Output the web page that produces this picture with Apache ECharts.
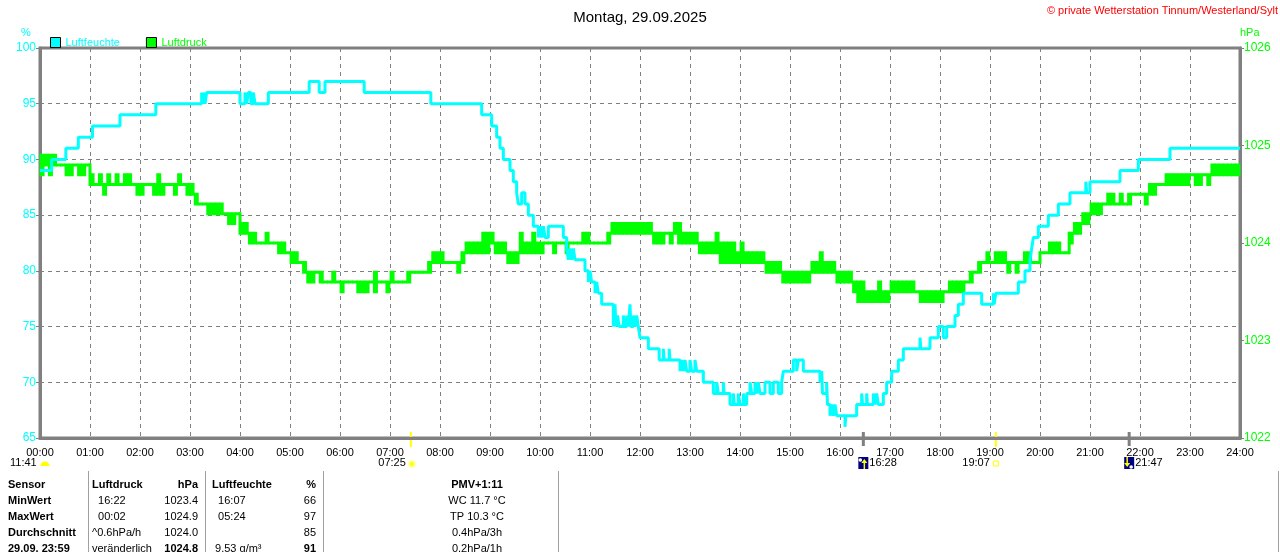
<!DOCTYPE html>
<html>

<head>
    <meta charset="utf-8" />
    <script src="https://cdn.jsdelivr.net/npm/echarts@6/dist/echarts.min.js"></script>
    <style>
        html, body { margin: 0; padding: 0; background: #fff; }
    </style>
</head>

<body>
    <div id="main" style="width: 1280px;height:552px;"></div>
    <script type="text/javascript">
        const FONT = 'Liberation Sans, Arial, sans-serif';
        const CYAN = '#00ffff';
        const GREEN = '#00ff00';
        const GRAY = '#808080';

        // Luftfeuchte (%): step changes [time, value]
        const humidity = [
            ['00:00', 89], ['00:14', 90], ['00:31', 91], ['00:46', 92], ['01:03', 93], ['01:36', 94],
            ['02:19', 95], ['03:14', 96], ['03:15', 95], ['03:17', 96], ['03:18', 95], ['03:20', 96],
            ['04:00', 95], ['04:06', 96], ['04:08', 95], ['04:10', 96], ['04:13', 95], ['04:16', 96],
            ['04:18', 95], ['04:34', 96], ['05:23', 97], ['05:35', 96], ['05:42', 97], ['06:29', 96],
            ['07:49', 95], ['08:50', 94], ['09:02', 93], ['09:08', 92], ['09:12', 91], ['09:16', 90],
            ['09:24', 89], ['09:28', 88], ['09:32', 87], ['09:34', 86], ['09:38', 87], ['09:42', 86],
            ['09:46', 85], ['09:52', 84], ['09:58', 83], ['10:00', 84], ['10:02', 83], ['10:04', 84],
            ['10:06', 83], ['10:10', 84], ['10:28', 83], ['10:32', 82], ['10:34', 81], ['10:36', 82],
            ['10:38', 81], ['10:40', 82], ['10:42', 81], ['10:54', 80], ['10:58', 79], ['11:00', 80],
            ['11:02', 79], ['11:06', 78], ['11:08', 79], ['11:10', 78], ['11:14', 77], ['11:28', 75],
            ['11:30', 77], ['11:31', 75], ['11:33', 76], ['11:35', 75], ['11:40', 76], ['11:41', 75],
            ['11:44', 76], ['11:46', 75], ['11:48', 77], ['11:49', 75], ['11:52', 76], ['11:54', 75],
            ['11:56', 76], ['11:58', 75], ['12:00', 74], ['12:10', 73], ['12:23', 72], ['12:28', 73],
            ['12:29', 72], ['12:35', 73], ['12:36', 72], ['12:48', 71], ['12:50', 72], ['12:52', 71],
            ['12:54', 72], ['12:56', 71], ['13:00', 72], ['13:02', 71], ['13:06', 72], ['13:08', 71],
            ['13:16', 70], ['13:28', 69], ['13:32', 70], ['13:34', 69], ['13:40', 70], ['13:41', 69],
            ['13:48', 68], ['13:52', 69], ['13:53', 68], ['13:58', 69], ['14:00', 68], ['14:04', 69],
            ['14:05', 68], ['14:08', 69], ['14:12', 70], ['14:14', 69], ['14:18', 70], ['14:20', 69],
            ['14:22', 70], ['14:24', 69], ['14:30', 70], ['14:36', 69], ['14:40', 70], ['14:46', 69],
            ['14:50', 70], ['14:52', 71], ['15:04', 72], ['15:08', 71], ['15:10', 72], ['15:16', 71],
            ['15:36', 70], ['15:38', 71], ['15:39', 69], ['15:44', 70], ['15:45', 68], ['15:48', 67],
            ['15:50', 68], ['15:52', 67], ['15:54', 68], ['15:56', 67], ['16:06', 66], ['16:07', 67],
            ['16:20', 68], ['16:26', 69], ['16:27', 68], ['16:32', 69], ['16:33', 68], ['16:40', 69],
            ['16:42', 68], ['16:44', 69], ['16:46', 68], ['16:52', 69], ['16:56', 70], ['17:02', 71],
            ['17:10', 72], ['17:16', 73], ['17:36', 74], ['17:37', 73], ['17:48', 74], ['17:58', 75],
            ['18:04', 74], ['18:08', 75], ['18:18', 76], ['18:22', 77], ['18:28', 78], ['18:50', 77],
            ['19:04', 78], ['19:05', 77], ['19:07', 78], ['19:34', 79], ['19:42', 80], ['19:48', 81],
            ['19:50', 82], ['19:52', 83], ['19:58', 84], ['20:10', 85], ['20:22', 86], ['20:36', 87],
            ['20:55', 88], ['20:56', 87], ['21:00', 88], ['21:36', 89], ['21:58', 90], ['22:36', 91],
            ['24:00', 91]
        ];

        // Luftdruck (hPa): one entry per 5 minutes, one row per hour.
        // A plain number is a steady reading, [low, high] is a reading that toggles between two values.
        const pressure = [
            [[1024.7, 1024.9], [1024.8, 1024.9], [1024.7, 1024.9], [1024.8, 1024.9], 1024.8, 1024.8, [1024.7, 1024.8], [1024.7, 1024.8], 1024.8, [1024.7, 1024.8], [1024.7, 1024.8], 1024.8],
            [[1024.6, 1024.7], 1024.6, [1024.6, 1024.7], [1024.5, 1024.6], [1024.6, 1024.7], 1024.6, [1024.6, 1024.7], 1024.6, [1024.6, 1024.7], [1024.6, 1024.7], 1024.6, [1024.5, 1024.6]],
            [[1024.5, 1024.6], 1024.6, 1024.6, [1024.5, 1024.6], [1024.5, 1024.7], [1024.5, 1024.6], 1024.6, 1024.6, [1024.5, 1024.6], [1024.6, 1024.7], 1024.6, [1024.5, 1024.6]],
            [[1024.5, 1024.6], [1024.4, 1024.5], 1024.4, 1024.4, [1024.3, 1024.4], [1024.3, 1024.4], [1024.3, 1024.4], [1024.3, 1024.4], 1024.3, [1024.2, 1024.3], [1024.2, 1024.3], 1024.3],
            [[1024.1, 1024.2], [1024.1, 1024.2], [1024.0, 1024.1], [1024.0, 1024.1], 1024.0, 1024.0, [1024.0, 1024.1], 1024.0, 1024.0, [1023.9, 1024.0], [1023.9, 1024.0], 1023.9],
            [[1023.8, 1023.9], [1023.8, 1023.9], 1023.8, [1023.7, 1023.8], [1023.6, 1023.7], [1023.6, 1023.7], 1023.7, [1023.6, 1023.7], 1023.6, 1023.6, [1023.6, 1023.7], 1023.6],
            [[1023.5, 1023.6], 1023.6, 1023.6, 1023.6, [1023.5, 1023.6], [1023.5, 1023.6], [1023.5, 1023.6], 1023.6, [1023.5, 1023.7], 1023.6, 1023.6, [1023.5, 1023.6]],
            [[1023.6, 1023.7], 1023.6, 1023.6, 1023.6, [1023.6, 1023.7], 1023.7, 1023.7, 1023.7, 1023.7, [1023.7, 1023.8], [1023.8, 1023.9], [1023.8, 1023.9]],
            [[1023.8, 1023.9], 1023.8, 1023.8, 1023.8, [1023.7, 1023.8], [1023.8, 1023.9], [1023.9, 1024.0], [1023.9, 1024.0], [1023.9, 1024.0], [1023.9, 1024.0], [1023.9, 1024.1], [1023.9, 1024.1]],
            [[1024.0, 1024.1], [1023.9, 1024.0], [1023.9, 1024.0], [1023.9, 1024.0], [1023.8, 1023.9], [1023.8, 1023.9], [1023.8, 1023.9], [1023.9, 1024.1], [1023.9, 1024.0], [1023.9, 1024.0], [1023.9, 1024.1], [1023.9, 1024.0]],
            [[1023.9, 1024.0], 1024.0, 1024.0, [1023.9, 1024.0], 1024.0, 1024.0, [1023.9, 1024.0], 1024.0, 1024.0, 1024.0, [1024.0, 1024.1], [1024.0, 1024.1]],
            [1024.0, 1024.0, 1024.0, 1024.0, [1024.0, 1024.1], [1024.1, 1024.2], [1024.1, 1024.2], [1024.1, 1024.2], [1024.1, 1024.2], [1024.1, 1024.2], [1024.1, 1024.2], [1024.1, 1024.2]],
            [[1024.1, 1024.2], [1024.1, 1024.2], [1024.1, 1024.2], [1024.0, 1024.1], [1024.0, 1024.1], [1024.0, 1024.1], 1024.1, [1024.0, 1024.1], [1024.1, 1024.2], [1024.0, 1024.2], [1024.0, 1024.1], [1024.0, 1024.1]],
            [[1024.0, 1024.1], [1024.0, 1024.1], [1023.9, 1024.0], [1023.9, 1024.0], [1023.9, 1024.0], [1023.9, 1024.0], [1023.9, 1024.1], [1023.8, 1024.0], [1023.8, 1024.0], [1023.8, 1024.0], [1023.8, 1024.0], [1023.8, 1023.9]],
            [[1023.8, 1024.0], [1023.8, 1023.9], [1023.8, 1023.9], [1023.8, 1023.9], [1023.8, 1023.9], [1023.8, 1023.9], [1023.7, 1023.8], [1023.7, 1023.8], [1023.7, 1023.8], [1023.7, 1023.8], [1023.6, 1023.7], [1023.6, 1023.7]],
            [[1023.6, 1023.7], [1023.6, 1023.7], [1023.6, 1023.7], [1023.6, 1023.7], [1023.6, 1023.7], [1023.7, 1023.8], [1023.7, 1023.8], [1023.7, 1023.9], [1023.7, 1023.8], [1023.7, 1023.8], [1023.7, 1023.8], [1023.6, 1023.7]],
            [[1023.6, 1023.7], [1023.6, 1023.7], [1023.6, 1023.7], [1023.5, 1023.6], [1023.4, 1023.6], [1023.4, 1023.6], [1023.4, 1023.5], [1023.4, 1023.5], [1023.4, 1023.5], [1023.4, 1023.6], [1023.4, 1023.5], [1023.4, 1023.5]],
            [[1023.5, 1023.6], [1023.5, 1023.6], [1023.5, 1023.6], [1023.5, 1023.6], [1023.5, 1023.6], [1023.5, 1023.6], 1023.5, [1023.4, 1023.5], [1023.4, 1023.5], [1023.4, 1023.5], [1023.4, 1023.5], [1023.4, 1023.5]],
            [[1023.4, 1023.5], 1023.5, [1023.5, 1023.6], [1023.5, 1023.6], [1023.5, 1023.6], [1023.5, 1023.6], 1023.6, [1023.6, 1023.7], 1023.7, [1023.7, 1023.8], 1023.8, [1023.8, 1023.9]],
            [1023.8, [1023.8, 1023.9], [1023.8, 1023.9], [1023.8, 1023.9], [1023.7, 1023.8], 1023.8, [1023.7, 1023.8], 1023.8, [1023.8, 1023.9], [1023.8, 1023.9], 1023.8, 1023.8],
            [1023.9, 1023.9, [1023.9, 1024.0], [1023.9, 1024.0], [1023.9, 1024.0], 1023.9, 1023.9, [1024.0, 1024.1], [1024.1, 1024.2], [1024.1, 1024.2], [1024.2, 1024.3], [1024.2, 1024.3]],
            [[1024.3, 1024.4], [1024.3, 1024.4], [1024.3, 1024.4], 1024.4, [1024.4, 1024.5], [1024.4, 1024.5], 1024.4, [1024.4, 1024.5], 1024.4, [1024.4, 1024.5], 1024.5, 1024.5],
            [1024.5, [1024.4, 1024.5], [1024.5, 1024.6], [1024.5, 1024.6], 1024.6, 1024.6, [1024.6, 1024.7], [1024.6, 1024.7], [1024.6, 1024.7], [1024.6, 1024.7], [1024.6, 1024.7], [1024.6, 1024.7]],
            [1024.7, [1024.6, 1024.7], [1024.6, 1024.7], 1024.7, [1024.6, 1024.7], [1024.7, 1024.8], [1024.7, 1024.8], [1024.7, 1024.8], [1024.7, 1024.8], [1024.7, 1024.8], [1024.7, 1024.8], [1024.7, 1024.8]]
        ];

        const dayLength = '11:41';
        const sunrise = '07:25';
        const sunset = '19:07';
        const moonrise = '16:28';
        const moonset = '21:47';

        const tableRows = [
            ['Sensor', 'Luftdruck', 'hPa', 'Luftfeuchte', '%', 'PMV+1:11'],
            ['MinWert', '  16:22', '1023.4', '  16:07', '66', 'WC 11.7 °C'],
            ['MaxWert', '  00:02', '1024.9', '  05:24', '97', 'TP 10.3 °C'],
            ['Durchschnitt', '^0.6hPa/h', '1024.0', '', '85', '0.4hPa/3h'],
            ['29.09. 23:59', 'veränderlich', '1024.8', ' 9.53 g/m³', '91', '0.2hPa/1h']
        ];

        function toMin(t) {
            const p = t.split(':');
            return +p[0] * 60 + +p[1];
        }

        function pad(n) {
            return (n < 10 ? '0' : '') + n;
        }

        // flatten to [startMinute, low, high, nextLow, nextHigh]
        const slots = [].concat(...pressure).map(v => Array.isArray(v) ? v : [v, v]);
        const pressureData = slots.map((s, i) => {
            const n = slots[i + 1] || s;
            return [i * 5, s[0], s[1], n[0], n[1]];
        });

        // each slot is a 3px stroke, toggling slots fill the band between both readings
        function renderPressure(params, api) {
            const t = api.value(0);
            const pLo = api.coord([t, api.value(1)]);
            const yHi = api.coord([t, api.value(2)])[1];
            const x1 = api.coord([t + 5, api.value(1)])[0];
            const nLo = api.coord([t + 5, api.value(3)])[1];
            const nHi = api.coord([t + 5, api.value(4)])[1];
            const style = { fill: GREEN };
            const rect = (x, y, rw, rh) => ({ type: 'rect', shape: { x: x, y: y, width: rw, height: rh }, style: style });
            // slightly wider than the slot so neighbouring slots do not leave seams
            const kids = [rect(pLo[0] - 0.4, yHi - 1.5, x1 - pLo[0] + 0.8, pLo[1] - yHi + 3)];
            // step to the next slot when the ranges do not touch
            if (nLo < yHi - 0.5 || nHi > pLo[1] + 0.5) {
                const top = Math.min(yHi, nHi), bot = Math.max(pLo[1], nLo);
                kids.push(rect(x1 - 1.5, top - 1.5, 3, bot - top + 3));
            }
            return { type: 'group', children: kids };
        }

        const myChart = echarts.init(document.getElementById('main'));
        myChart.setOption({
            animation: false,
            backgroundColor: '#fff',
            textStyle: { fontFamily: FONT },
            title: {
                text: 'Montag, 29.09.2025',
                left: 'center',
                top: 5,
                textStyle: { fontFamily: FONT, fontSize: 15, fontWeight: 'normal', color: '#000' }
            },
            legend: {
                left: 45,
                top: 32,
                icon: 'rect',
                itemWidth: 10,
                itemHeight: 10,
                itemGap: 26,
                itemStyle: { borderColor: '#000', borderWidth: 1 },
                textStyle: { fontFamily: FONT, fontSize: 11 },
                data: [
                    { name: 'Luftfeuchte', textStyle: { color: CYAN } },
                    { name: 'Luftdruck', textStyle: { color: GREEN } }
                ]
            },
            grid: {
                left: 40, right: 40, top: 48, bottom: 114,
                show: true, borderColor: GRAY, borderWidth: 3
            },
            xAxis: {
                type: 'value',
                min: 0,
                max: 1440,
                interval: 60,
                axisLine: { lineStyle: { color: GRAY, width: 3 } },
                axisTick: { show: false },
                axisLabel: {
                    color: '#000', fontSize: 11, fontFamily: FONT, margin: 9,
                    showMaxLabel: true,
                    formatter: v => pad(v / 60) + ':00'
                },
                splitLine: { show: true, lineStyle: { color: GRAY, type: [4, 4], width: 1 } }
            },
            yAxis: [{
                type: 'value',
                min: 65,
                max: 100,
                interval: 5,
                axisLine: { show: true, lineStyle: { color: GRAY, width: 3 } },
                axisTick: { show: true, length: 4, lineStyle: { color: GRAY, width: 1 } },
                axisLabel: { color: CYAN, fontSize: 12, fontFamily: FONT, margin: 4 },
                splitLine: { show: true, lineStyle: { color: GRAY, type: [4, 4], width: 1 } }
            }, {
                type: 'value',
                position: 'right',
                min: 1022,
                max: 1026,
                interval: 1,
                axisLine: { show: true, lineStyle: { color: GRAY, width: 3 } },
                axisTick: { show: true, length: 4, lineStyle: { color: GRAY, width: 1 } },
                axisLabel: { color: GREEN, fontSize: 12, fontFamily: FONT, margin: 4, formatter: v => String(v) },
                splitLine: { show: false }
            }],
            series: [{
                name: 'Luftdruck',
                type: 'custom',
                yAxisIndex: 1,
                color: GREEN,
                itemStyle: { color: GREEN },
                renderItem: renderPressure,
                encode: { x: 0, y: [1, 2] },
                data: pressureData
            }, {
                name: 'Luftfeuchte',
                type: 'line',
                yAxisIndex: 0,
                step: 'end',
                showSymbol: false,
                color: CYAN,
                lineStyle: { color: CYAN, width: 3 },
                data: humidity.map(d => [toMin(d[0]), d[1]])
            }]
        });

        // markers and table below the plot, placed through the axis scale
        const xAt = t => myChart.convertToPixel({ xAxisIndex: 0 }, toMin(t));
        const yBase = myChart.convertToPixel({ yAxisIndex: 0 }, 65);
        const labelY = yBase + 25;
        const t = (x, y, s, align, color, bold) => ({
            type: 'text', x: x, y: y,
            style: {
                text: s, fill: color || '#000',
                font: (bold ? 'bold ' : '') + '11px ' + FONT,
                textAlign: align || 'left', textVerticalAlign: 'middle'
            }
        });
        const line = (x1, y1, x2, y2, color, w) => ({
            type: 'line', shape: { x1: x1, y1: y1, x2: x2, y2: y2 },
            style: { stroke: color, lineWidth: w }
        });

        const g = [];
        g.push(t(26, 33, '%', 'center', CYAN));
        g.push(t(1240, 33, 'hPa', 'left', GREEN));
        g.push(t(1278, 11, '© private Wetterstation Tinnum/Westerland/Sylt', 'right', '#ff0000'));

        // day length
        g.push(t(10, labelY, dayLength, 'left'));
        g.push({ type: 'sector', shape: { cx: 45, cy: labelY + 3, r0: 0, r: 4.5, startAngle: Math.PI, endAngle: 2 * Math.PI }, style: { fill: '#ffff00' } });

        // sunrise
        let x = xAt(sunrise);
        g.push(line(x, yBase - 6, x, yBase + 9, '#ffff00', 2));
        g.push(t(x - 5, labelY, sunrise, 'right'));
        g.push({ type: 'circle', shape: { cx: x + 1, cy: labelY + 1, r: 3 }, style: { fill: '#ffff00', stroke: '#ffffa0', lineWidth: 2 } });

        // moonrise
        x = xAt(moonrise);
        g.push(line(x, yBase - 6, x, yBase + 8, GRAY, 3));
        g.push({ type: 'rect', shape: { x: x - 5, y: labelY - 6, width: 10, height: 12 }, style: { fill: '#000080' } });
        g.push({ type: 'circle', shape: { cx: x - 3, cy: labelY - 3, r: 1.8 }, style: { fill: '#fff' } });
        g.push(line(x + 1, labelY + 6, x + 1, labelY - 2, '#ffff00', 1.5));
        g.push({ type: 'polygon', shape: { points: [[x - 2, labelY], [x + 4, labelY], [x + 1, labelY - 4]] }, style: { fill: '#ffff00' } });
        g.push(t(x + 6, labelY, moonrise, 'left'));

        // sunset
        x = xAt(sunset);
        g.push(line(x, yBase - 6, x, yBase + 9, '#ffff00', 2));
        g.push(t(x - 6, labelY, sunset, 'right'));
        g.push({ type: 'rect', shape: { x: x - 2.5, y: labelY - 2, width: 5, height: 5 }, style: { fill: 'none', stroke: '#ffff00', lineWidth: 1 } });

        // moonset
        x = xAt(moonset);
        g.push(line(x, yBase - 6, x, yBase + 8, GRAY, 3));
        g.push({ type: 'rect', shape: { x: x - 5, y: labelY - 6, width: 10, height: 12 }, style: { fill: '#000080' } });
        g.push({ type: 'circle', shape: { cx: x + 2, cy: labelY + 4, r: 1.8 }, style: { fill: '#fff' } });
        g.push(line(x - 2, labelY - 6, x - 2, labelY + 2, '#ffff00', 1.5));
        g.push({ type: 'polygon', shape: { points: [[x - 5, labelY], [x + 1, labelY], [x - 2, labelY + 4]] }, style: { fill: '#ffff00' } });
        g.push(t(x + 6, labelY, moonset, 'left'));

        // table
        [88, 205, 323, 558, 1278].forEach(sx => g.push(line(sx + 0.5, 471, sx + 0.5, 552, '#a0a0a0', 1)));
        tableRows.forEach((r, i) => {
            const y = 485 + i * 16;
            const head = i === 0;
            const last = i === tableRows.length - 1;
            g.push(t(8, y, r[0], 'left', '#000', true));
            g.push(t(92, y, r[1], 'left', '#000', head));
            g.push(t(198, y, r[2], 'right', '#000', head || last));
            g.push(t(212, y, r[3], 'left', '#000', head));
            g.push(t(316, y, r[4], 'right', '#000', head || last));
            g.push(t(477, y, r[5], 'center', '#000', head));
        });

        myChart.setOption({ graphic: g });
    </script>
</body>

</html>
